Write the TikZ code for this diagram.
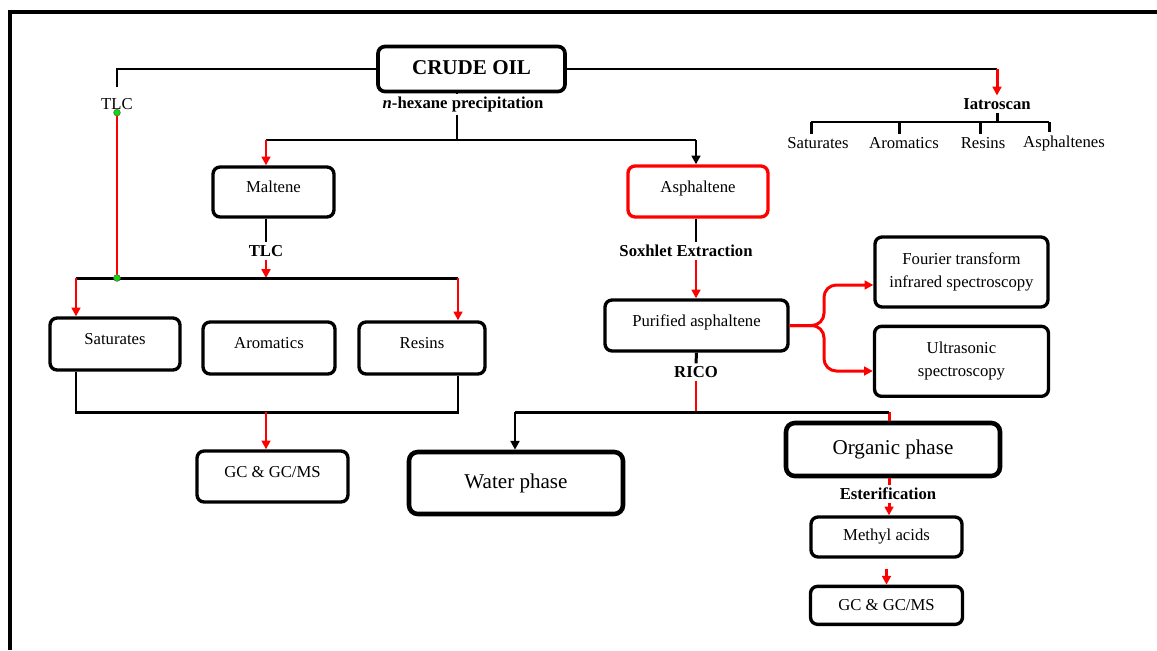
\documentclass[tikz,border=0pt]{standalone}
\usepackage{fontspec}
\setmainfont{Liberation Serif}
\usetikzlibrary{positioning, arrows.meta}
\tikzset{
conn/.style={line width=1.7pt}, % every connector line
redline/.style={conn, red}, % red connector without tip
redarrow/.style={redline, -{Triangle[length=5pt,width=5pt]}}, % red connector with tip
blkarrow/.style={conn, -{Triangle[length=5pt,width=5pt]}}, % black connector with tip
plainbox/.style={draw, line width=1.9pt, rounded corners=4pt, inner sep=0pt, align=center, font=\fontsize{9.5}{13}\selectfont}, % boxes with small text
box/.style={plainbox, text height=7pt, text depth=6pt}, % same, text sits a bit high
bigbox/.style={draw, line width=2.6pt, rounded corners=5pt, inner sep=0pt, font=\fontsize{12}{14}\selectfont}, % the phase boxes
lbl/.style={inner sep=1.5pt, font=\fontsize{9.5}{11}\selectfont}, % free text
blbl/.style={inner sep=1.5pt, font=\fontsize{9.5}{11}\selectfont\bfseries}, % free bold text
dot/.style={circle, fill=green!90!black, draw=black!60, inner sep=0pt, minimum size=3.8pt}, % junction dots
}

\begin{document}
\begin{tikzpicture}[x=0.02cm, y=-0.02cm]
    \useasboundingbox (0,0) rectangle (1157,650);
    \draw[line width=1.8pt] (10,650) -- (10,12) -- (1157,12);

    \node[box, line width=2.1pt, font=\fontsize{12}{14}\selectfont\bfseries, text height=8.5pt, text depth=2pt,
          minimum width=3.74cm, minimum height=0.9cm] (crude) at (471.5,69) {CRUDE OIL};
    \node[box, minimum width=2.42cm, minimum height=1cm] (maltene) at (273.5,192) {Maltene};
    \node[box, draw=red, minimum width=2.8cm, minimum height=1.02cm] (asph) at (698,191.5) {Asphaltene};
    \node[box, minimum width=2.6cm, minimum height=1.04cm] (sat) at (115,344) {Saturates};
    \node[box, minimum width=2.64cm, minimum height=1.04cm] (arom) at (269,348) {Aromatics};
    \node[box, minimum width=2.52cm, minimum height=1.04cm] (res) at (422,348) {Resins};
    \node[box, minimum width=3.02cm, minimum height=1.02cm] (gcl) at (272.5,476.5) {GC \& GC/MS};
    \node[box, minimum width=3.66cm, minimum height=1.02cm] (pur) at (696.5,325.5) {Purified asphaltene};
    \node[plainbox, minimum width=3.46cm, minimum height=1.4cm] (ftir) at (961.5,272) {Fourier transform\\infrared spectroscopy};
    \node[plainbox, minimum width=3.48cm, minimum height=1.4cm, below=0.32cm of ftir] (ultra) {Ultrasonic\\spectroscopy};
    \node[bigbox, minimum width=4.28cm, minimum height=1.24cm] (water) at (516,483) {Water phase};
    \node[bigbox, minimum width=4.28cm, minimum height=1.06cm] (org) at (893,449.5) {Organic phase};
    \node[plainbox, minimum width=3.02cm, minimum height=0.8cm] (methyl) at (886.5,537) {Methyl acids};
    \node[plainbox, minimum width=3.04cm, minimum height=0.76cm, below=0.52cm of methyl] (gcr) {GC \& GC/MS};

    \node[lbl] (tlcA) at (117,104) {TLC};
    \node[blbl] (hex) at (463,104) {\textit{n}-hexane precipitation};
    \node[blbl] (iatro) at (997,104) {Iatroscan};
    \node[lbl] (isat) at (818,143) {Saturates};
    \node[lbl] (iaro) at (904,143) {Aromatics};
    \node[lbl] (ires) at (983,143) {Resins};
    \node[lbl] (iasp) at (1064,143) {Asphaltenes};
    \node[blbl] (tlcB) at (266,251) {TLC};
    \node[blbl] (sox) at (686,251) {Soxhlet Extraction};
    \node[blbl] (rico) at (696,372) {RICO};
    \node[blbl] (ester) at (888,494) {Esterification};

    % junctions of the bars
    \coordinate (jh) at (457,140);
    \coordinate (mL) at (266,140);
    \coordinate (mR) at (696,140);
    \coordinate (jI) at (997,69);
    \coordinate (ib) at (997,122);
    \coordinate (bL) at (76,278);
    \coordinate (bR) at (458,278);
    \coordinate (g2) at (117,278);
    \coordinate (cL) at (76,412);
    \coordinate (cR) at (458,412);
    \coordinate (cM) at (266,412);
    \coordinate (jr) at (696,412);
    \coordinate (wL) at (515,412);
    \coordinate (oR) at (889,412);

    % crude oil and its three routes
    \draw[conn] (crude.west) -| ([yshift=5pt]tlcA.north);
    \draw[conn] (jh |- crude.south) -- (jh |- hex.north);
    \draw[conn] (jh |- hex.south) -- (jh);
    \draw[conn] (mL) -- (mR);
    \draw[redarrow] (mL) -- (mL |- maltene.north);
    \draw[blkarrow] (mR) -- (mR |- asph.north);
    \draw[conn] (crude.east) -- (jI);
    \draw[redarrow] (jI) -- (iatro.north);
    \draw[conn] (iatro.south) -- (ib);
    \draw[conn] (811,122) -- (1049,122);
    \foreach \n/\x in {isat/811, iaro/899, ires/980, iasp/1049}
        \draw[conn] (\x,122) -- (\n.north -| \x,0);

    % maltene side
    \draw[conn] (mL |- maltene.south) -- (mL |- tlcB.north);
    \draw[redarrow] (mL |- tlcB.south) -- (mL |- bL);
    \draw[conn] (bL) -- (bR);
    \draw[redline] (tlcA.south) -- (g2);
    \draw[redarrow] (bL) -- (bL |- sat.north);
    \draw[redarrow] (bR) -- (bR |- res.north);
    \draw[conn] (bL |- sat.south) -- (cL) -- (cR) -- (bR |- res.south);
    \draw[redarrow] (cM) -- (cM |- gcl.north);

    % asphaltene side
    \draw[conn] (mR |- asph.south) -- (mR |- sox.north);
    \draw[redarrow] (mR |- sox.south) -- (mR |- pur.north);
    \draw[redarrow, rounded corners=7pt] (pur.east) -| (824,285) -- (ftir.west |- 0,285);
    \draw[redarrow, rounded corners=7pt] (pur.east) -| (824,371) -- (ultra.west |- 0,371);
    \draw[conn] (pur.south) -- (rico.north);
    \draw[redline] (rico.south) -- (jr);
    \draw[redline] (oR) -- (oR |- org.north);
    \draw[conn] (wL) -- (oR);
    \draw[blkarrow] (wL) -- (wL |- water.north);
    \draw[redline] (oR |- org.south) -- (oR |- ester.north);
    \draw[redarrow] (oR |- ester.south) -- (oR |- methyl.north);
    \draw[redarrow, shorten <=6pt] (methyl.south) -- (gcr.north);

    \node[dot] at (tlcA.south) {};
    \node[dot] at (g2) {};
\end{tikzpicture}
\end{document}
